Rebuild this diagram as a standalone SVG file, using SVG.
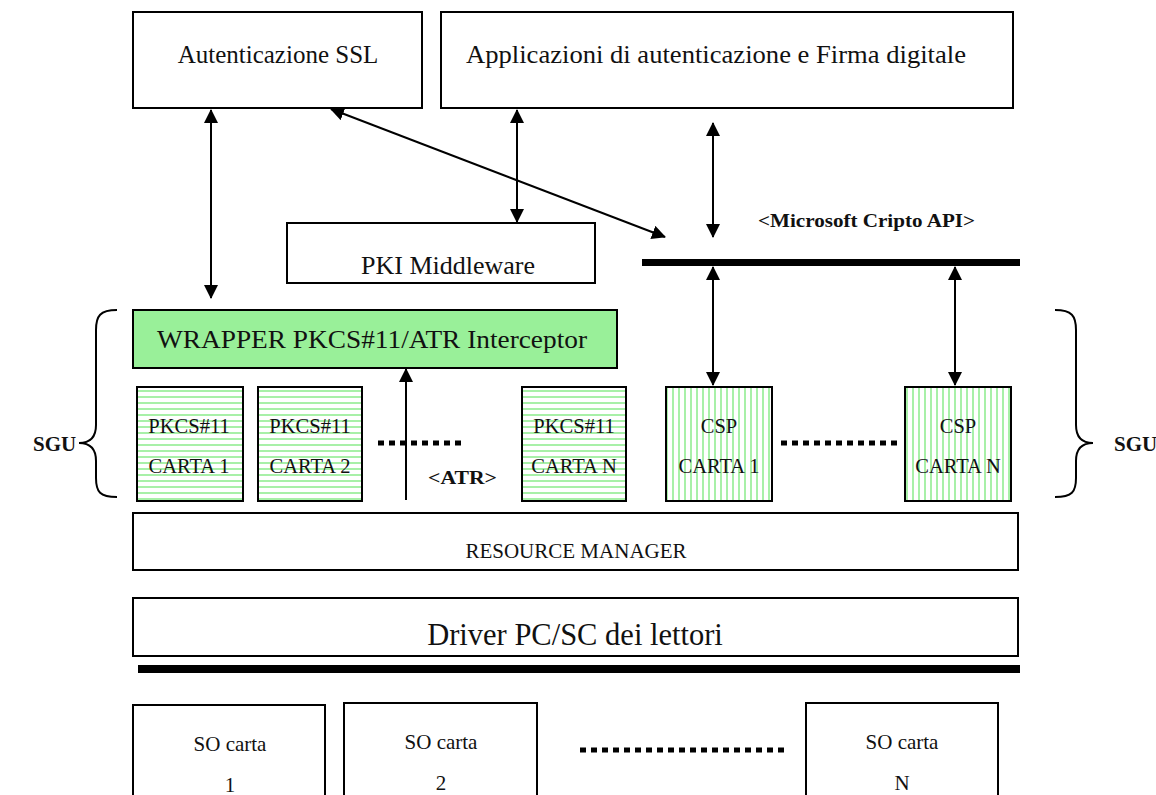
<svg xmlns="http://www.w3.org/2000/svg" width="1156" height="795" viewBox="0 0 1156 795">
<style>
.box{fill:#fff;stroke:#000;stroke-width:2}
.t{font-family:"Liberation Serif","Times New Roman",serif;fill:#111;text-anchor:middle}
.b{font-family:"Liberation Serif","Times New Roman",serif;font-weight:bold;fill:#111}
.c{stroke:#000;stroke-width:2;fill:none}
.dot{stroke:#000;stroke-width:5;stroke-dasharray:6,5}
.hz{fill:url(#hz);stroke:#000;stroke-width:2}
.vt{fill:url(#vt);stroke:#000;stroke-width:2}
</style>
<defs>
<marker id="ah" viewBox="0 0 14 14" refX="13" refY="7" markerWidth="14" markerHeight="14" markerUnits="userSpaceOnUse" orient="auto-start-reverse"><path d="M0,0L14,7L0,14z" fill="#000"/></marker>
<pattern id="hz" width="8" height="6" patternUnits="userSpaceOnUse"><rect width="8" height="6" fill="#fff"/><rect y="0" width="8" height="2" fill="#a8f0a8"/></pattern>
<pattern id="vt" width="6" height="8" patternUnits="userSpaceOnUse"><rect width="6" height="8" fill="#fff"/><rect x="0" width="2" height="8" fill="#a8f0a8"/></pattern>
</defs>
<rect width="1156" height="795" fill="#fff"/>
<g id="n-ssl"><rect class="box" x="133" y="12" width="289" height="96"/><text class="t" x="278" y="63" font-size="25">Autenticazione SSL</text></g>
<g id="n-app"><rect class="box" x="441" y="12" width="572" height="96"/><text class="t" x="716" y="63" font-size="25" textLength="500" lengthAdjust="spacingAndGlyphs">Applicazioni di autenticazione e Firma digitale</text></g>
<g id="n-pki"><rect class="box" x="287" y="223" width="308" height="60"/><text class="t" x="448" y="274" font-size="26">PKI Middleware</text></g>
<g id="n-capi"><rect x="642" y="259" width="378" height="7" fill="#000"/><text class="b" x="758" y="227" font-size="18" textLength="217" lengthAdjust="spacingAndGlyphs">&lt;Microsoft Cripto API&gt;</text></g>
<g id="n-wrapper"><rect x="133" y="310" width="484" height="58" fill="#99f099" stroke="#000" stroke-width="2"/><text class="t" x="372" y="348" font-size="26" textLength="430" lengthAdjust="spacingAndGlyphs">WRAPPER PKCS#11/ATR Interceptor</text></g>
<g id="n-pk1"><rect class="hz" x="137" y="387" width="106" height="114"/><text class="t" x="189" y="433" font-size="20.5">PKCS#11</text><text class="t" x="189" y="473" font-size="20.5">CARTA 1</text></g>
<g id="n-pk2"><rect class="hz" x="258" y="387" width="104" height="114"/><text class="t" x="310" y="433" font-size="20.5">PKCS#11</text><text class="t" x="310" y="473" font-size="20.5">CARTA 2</text></g>
<g id="n-pkn"><rect class="hz" x="522" y="387" width="104" height="114"/><text class="t" x="574" y="433" font-size="20.5">PKCS#11</text><text class="t" x="574" y="473" font-size="20.5">CARTA N</text></g>
<g id="n-csp1"><rect class="vt" x="666" y="387" width="106" height="114"/><text class="t" x="719" y="433" font-size="20.5">CSP</text><text class="t" x="719" y="473" font-size="20.5">CARTA 1</text></g>
<g id="n-cspn"><rect class="vt" x="905" y="387" width="106" height="114"/><text class="t" x="958" y="433" font-size="20.5">CSP</text><text class="t" x="958" y="473" font-size="20.5">CARTA N</text></g>
<g id="n-atr"><text class="b" x="428" y="484" font-size="18" textLength="69" lengthAdjust="spacingAndGlyphs">&lt;ATR&gt;</text></g>
<g id="n-dots"><line class="dot" x1="378" y1="443" x2="466" y2="443"/><line class="dot" x1="781" y1="443" x2="897" y2="443"/><line class="dot" x1="580" y1="750" x2="787" y2="750"/></g>
<g id="n-sgu-l"><path class="c" d="M117,310 C100,310 96,316 96,330 L96,425 C96,438 90,443 79,443 C90,443 96,448 96,461 L96,478 C96,492 100,497 117,497"/><text class="b" x="33" y="451" font-size="21">SGU</text></g>
<g id="n-sgu-r"><path class="c" d="M1055,310 C1072,310 1076,316 1076,330 L1076,425 C1076,438 1082,443 1093,443 C1082,443 1076,448 1076,461 L1076,478 C1076,492 1072,497 1055,497"/><text class="b" x="1114" y="451" font-size="21">SGU</text></g>
<g id="n-rm"><rect class="box" x="133" y="513" width="885" height="57"/><text class="t" x="576" y="558" font-size="21">RESOURCE MANAGER</text></g>
<g id="n-drv"><rect class="box" x="133" y="598" width="885" height="58"/><text class="t" x="575" y="645" font-size="30.5">Driver PC/SC dei lettori</text></g>
<g id="n-bus"><rect x="138" y="665" width="882" height="8" fill="#000"/></g>
<g id="n-so1"><rect class="box" x="133" y="705" width="192" height="100"/><text class="t" x="230" y="751" font-size="21">SO carta</text><text class="t" x="230" y="792" font-size="21">1</text></g>
<g id="n-so2"><rect class="box" x="344" y="703" width="193" height="100"/><text class="t" x="441" y="749" font-size="21">SO carta</text><text class="t" x="441" y="790" font-size="21">2</text></g>
<g id="n-son"><rect class="box" x="806" y="703" width="192" height="100"/><text class="t" x="902" y="749" font-size="21">SO carta</text><text class="t" x="902" y="790" font-size="21">N</text></g>
<g id="connectors">
<line class="c" x1="211" y1="110" x2="211" y2="298" marker-start="url(#ah)" marker-end="url(#ah)"/>
<line class="c" x1="331" y1="109" x2="665" y2="237" marker-start="url(#ah)" marker-end="url(#ah)"/>
<line class="c" x1="517" y1="110" x2="517" y2="222" marker-start="url(#ah)" marker-end="url(#ah)"/>
<line class="c" x1="713" y1="123" x2="713" y2="237" marker-start="url(#ah)" marker-end="url(#ah)"/>
<line class="c" x1="713" y1="267" x2="713" y2="385" marker-start="url(#ah)" marker-end="url(#ah)"/>
<line class="c" x1="955" y1="267" x2="955" y2="385" marker-start="url(#ah)" marker-end="url(#ah)"/>
<line class="c" x1="406" y1="500" x2="406" y2="369" marker-end="url(#ah)"/>
</g>
</svg>
